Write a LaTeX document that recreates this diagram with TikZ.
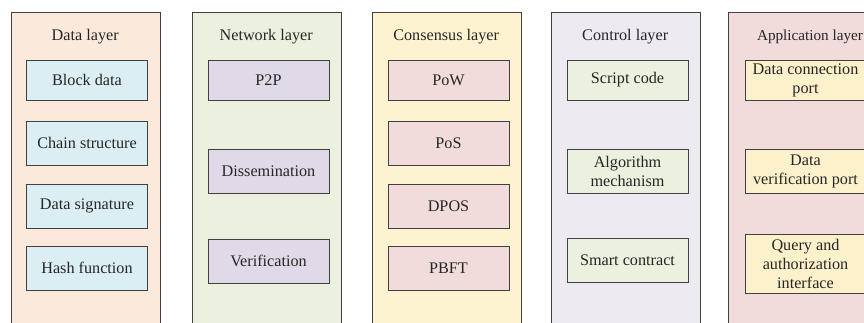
\documentclass[tikz,border=0pt]{standalone}
\usepackage{fontspec}
\setmainfont{Liberation Serif}
\definecolor{peach}{HTML}{FBEADC}
\definecolor{cyanbox}{HTML}{DAEEF3}
\definecolor{sage}{HTML}{EBF1DE}
\definecolor{lilac}{HTML}{E0DAE8}
\definecolor{cream}{HTML}{FEF3D0}
\definecolor{rose}{HTML}{F2DCDB}
\definecolor{mist}{HTML}{EDEAF2}
\definecolor{butter}{HTML}{FDF1CC}
\definecolor{edge}{HTML}{404040}
\tikzset{
  panel/.style={draw=edge, line width=0.8pt, anchor=north west, minimum width=149pt, minimum height=340pt, inner sep=0pt},
  item/.style={draw=edge, line width=0.8pt, minimum width=121pt, inner sep=1pt, align=center,
    font=\fontsize{16.2}{19}\selectfont, text=black!85},
  title/.style={font=\fontsize{16.2}{19}\selectfont, text=black!85}
}
\begin{document}
\begin{tikzpicture}[x=1pt, y=-1pt]
\useasboundingbox (0,0) rectangle (864,322);
\clip (0,0) rectangle (864,322);
\fill[white] (0,0) rectangle (864,322);

% layer panels
\node[panel, fill=peach] (pdata) at (10.7,12) {};
\node[panel, fill=sage]  (pnet)  at (191.7,12) {};
\node[panel, fill=cream] (pcons) at (371.7,12) {};
\node[panel, fill=mist]  (pctrl) at (550.7,12) {};
\node[panel, fill=rose]  (papp)  at (728,12) {};

% panel titles
\node[title] (tdata) at (85.2,37) {Data layer};
\node[title] (tnet)  at (266.2,37) {Network layer};
\node[title] (tcons) at (446.2,37) {Consensus layer};
\node[title] (tctrl) at (625.2,37) {Control layer};
\node[title, font=\fontsize{15.2}{18}\selectfont] (tapp) at (810,37) {Application layer};

% data layer
\node[item, fill=cyanbox, minimum height=40pt] (d1) at (87,80) {Block data};
\node[item, fill=cyanbox, minimum height=44pt] (d2) at (87,143) {Chain structure};
\node[item, fill=cyanbox, minimum height=44pt] (d3) at (87,206) {Data signature};
\node[item, fill=cyanbox, minimum height=44pt] (d4) at (87,268) {Hash function};

% network layer
\node[item, fill=lilac, minimum height=40pt] (n1) at (268.5,80) {P2P};
\node[item, fill=lilac, minimum height=44pt] (n2) at (268.5,171) {Dissemination};
\node[item, fill=lilac, minimum height=44pt] (n3) at (268.5,261) {Verification};

% consensus layer
\node[item, fill=rose, minimum height=40pt] (c1) at (448.5,80) {PoW};
\node[item, fill=rose, minimum height=44pt] (c2) at (448.5,143) {PoS};
\node[item, fill=rose, minimum height=44pt] (c3) at (448.5,206) {DPOS};
\node[item, fill=rose, minimum height=44pt] (c4) at (448.5,268) {PBFT};

% control layer
\node[item, fill=sage, minimum height=40pt] (k1) at (627.5,80) {Script code};
\node[item, fill=sage, minimum height=44pt] (k2) at (627.5,171) {Algorithm\\mechanism};
\node[item, fill=sage, minimum height=44pt] (k3) at (627.5,260) {Smart contract};

% application layer
\node[item, fill=butter, minimum height=40pt] (a1) at (805.5,80) {Data connection\\port};
\node[item, fill=butter, minimum height=44pt] (a2) at (805.5,171) {Data\\verification port};
\node[item, fill=butter, minimum height=59pt] (a3) at (805.5,263.5) {Query and\\authorization\\interface};
\end{tikzpicture}
\end{document}
